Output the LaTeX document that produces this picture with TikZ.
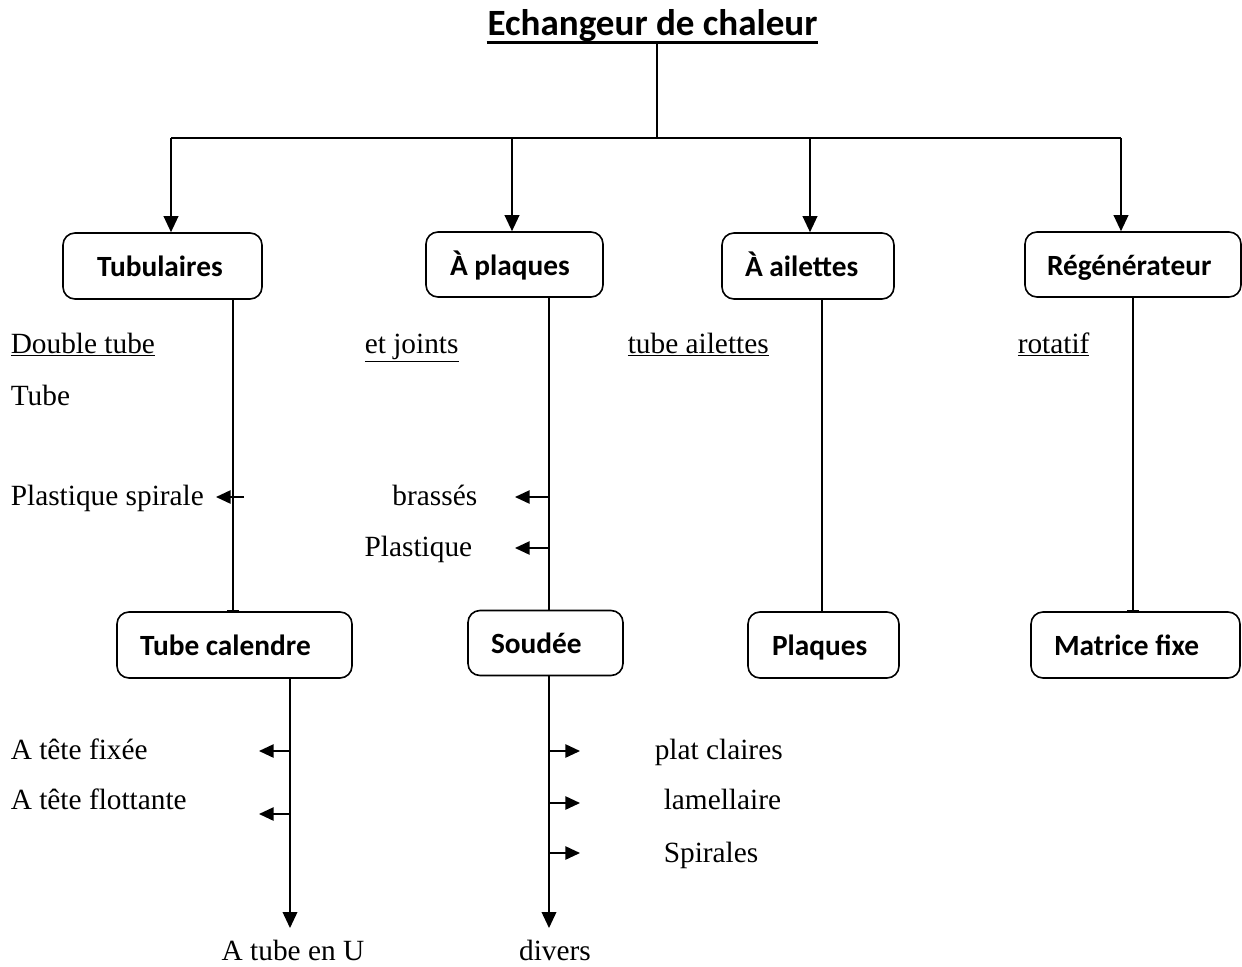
\documentclass[tikz,border=0pt]{standalone}
\usepackage{fontspec}
\setmainfont{Liberation Serif}
\newfontfamily\calib{Carlito}
\usetikzlibrary{arrows.meta,calc}
\begin{document}
\begin{tikzpicture}[x=0.75pt,y=-0.75pt,line width=1.2pt,
  bx/.style={draw,rounded corners=9pt,font=\calib\bfseries\fontsize{22}{26}\selectfont,align=flush left,inner ysep=0pt,text height=21pt,text depth=5pt},
  txt/.style={font=\fontsize{22}{26}\selectfont,inner sep=0pt},
  dn/.style={-{Triangle[length=12pt,width=11pt]}},
  sd/.style={-{Triangle[length=11pt,width=10pt]}},
  br/.style={-{Bar[width=9pt]}}]
\useasboundingbox (0,0) rectangle (1242,967);
% title
\node[anchor=base,inner sep=0pt,font=\calib\bfseries\fontsize{27.8}{32}\selectfont] (title) at (652.5,36) {Echangeur de chaleur};
\draw[line width=2pt] ([yshift=-5pt]title.base west) -- ([yshift=-5pt]title.base east);
\coordinate (top) at (657,138);
\coordinate (j1) at (171,138);
\coordinate (j2) at (512,138);
\coordinate (j3) at (810,138);
\coordinate (j4) at (1121,138);
\draw ([yshift=-6pt]title.base -| top) -- (top);
\draw (j1) -- (j4);
% level 1 boxes
\node[bx,text width=98.25pt,inner xsep=25.5pt,minimum height=49.5pt] (tub) at (162.5,266) {Tubulaires};
\node[bx,text width=96.75pt,inner xsep=18pt,minimum height=48.75pt] (pla) at (514.5,264.5) {À plaques};
\node[bx,text width=94.5pt,inner xsep=17.25pt,minimum height=49.5pt] (ail) at (808,266) {À ailettes};
\node[bx,text width=129pt,inner xsep=16.5pt,minimum height=48.75pt] (reg) at (1133,264.5) {Régénérateur};
\draw[dn] (j1) -- (j1 |- tub.north);
\draw[dn] (j2) -- (j2 |- pla.north);
\draw[dn] (j3) -- (j3 |- ail.north);
\draw[dn] (j4) -- (j4 |- reg.north);
% level 2 boxes
\node[bx,text width=141.75pt,inner xsep=17.25pt,minimum height=49.5pt] (tc) at (234.5,645) {Tube calendre};
\node[bx,text width=81.75pt,inner xsep=17.25pt,minimum height=48.75pt] (so) at (545.5,643) {Soudée};
\node[bx,text width=77.25pt,inner xsep=18pt,minimum height=49.5pt] (pq) at (823.5,645) {Plaques};
\node[bx,text width=122.25pt,inner xsep=17.25pt,minimum height=49.5pt] (mf) at (1135.5,645) {Matrice fixe};
\coordinate (x1) at (233,0);
\coordinate (x2) at (549,0);
\coordinate (x3) at (822,0);
\coordinate (x4) at (1133,0);
\draw[br] (tub.south -| x1) -- (tc.north -| x1);
\draw (pla.south -| x2) -- (so.north -| x2);
\draw (ail.south -| x3) -- (pq.north -| x3);
\draw[br] (reg.south -| x4) -- (mf.north -| x4);
% plain labels
\node[txt,anchor=base west] (dt) at (10,353) {\underline{Double tube}};
\node[txt,anchor=base west] (tb) at (10,405) {Tube};
\node[txt,anchor=base west] (ps) at (10,505) {Plastique spirale};
\node[txt,anchor=base west] (ej) at (364,353) {\underline{et joints}};
\node[txt,anchor=base west] (ta) at (627,353) {\underline{tube ailettes}};
\node[txt,anchor=base west] (ro) at (1017,353) {\underline{rotatif}};
\node[txt,anchor=base east] (bs) at (478,505) {brassés};
\node[txt,anchor=base east] (pl2) at (473,556) {Plastique};
\node[txt,anchor=base west] (tf) at (10,759) {A tête fixée};
\node[txt,anchor=base west] (tfl) at (10,809) {A tête flottante};
\node[txt,anchor=base] (atu) at (293,960) {A tube en U};
\node[txt,anchor=base] (dv) at (555,960) {divers};
\node[txt,anchor=base west] (pc) at (654,759) {plat claires};
\node[txt,anchor=base west] (la) at (663,809) {lamellaire};
\node[txt,anchor=base west] (sp) at (663,862) {Spirales};
% side arrows
\coordinate (a1) at (244,497);
\draw[sd] (a1) -- (216,497);
\coordinate (a2) at (548,497);
\draw[sd] (a2) -- (515,497);
\coordinate (a3) at (548,548);
\draw[sd] (a3) -- (515,548);
% lower trunks
\coordinate (tend) at (290,928);
\coordinate (send) at (549,928);
\draw[dn] (tc.south -| tend) -- (tend);
\draw[dn] (so.south -| send) -- (send);
\coordinate (b1) at (290,751);
\coordinate (b2) at (290,814);
\draw[sd] (b1) -- (259,751);
\draw[sd] (b2) -- (259,814);
\coordinate (c1) at (549,751);
\coordinate (c2) at (549,803);
\coordinate (c3) at (549,853);
\draw[sd] (c1) -- (580,751);
\draw[sd] (c2) -- (580,803);
\draw[sd] (c3) -- (580,853);
\end{tikzpicture}
\end{document}
